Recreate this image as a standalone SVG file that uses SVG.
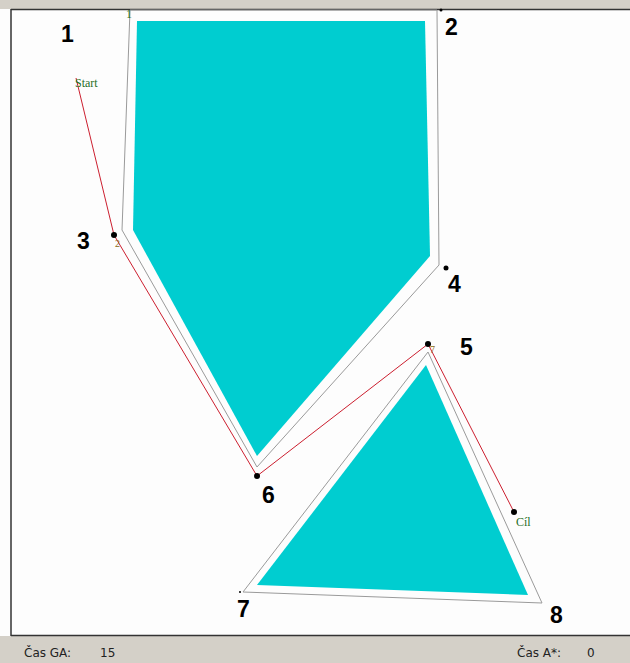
<svg xmlns="http://www.w3.org/2000/svg" width="630" height="663" viewBox="0 0 630 663">
<style>
.num{font-family:"Liberation Sans",Arial,sans-serif;font-weight:bold;font-size:23px;fill:#000}
.lbl{font-family:"Liberation Serif","Times New Roman",serif;font-size:12px;fill:#1f6f1f}
.idx{font-family:"Liberation Serif",serif;font-size:10px;fill:#8a6a10}
.out{fill:none;stroke:#9a9a9a;stroke-width:1}
.obs{fill:#00cdd0;stroke:none}
.path{fill:none;stroke:#cc1f2f;stroke-width:1}
.dot{fill:#000}
.stat{font-family:Tahoma,"DejaVu Sans","Liberation Sans",sans-serif;font-size:12px;fill:#222}
</style>
<rect x="0" y="0" width="630" height="663" fill="#fdfdfd"/>
<rect x="0" y="0" width="630" height="9" fill="#d4d0c8"/>
<rect x="0" y="636" width="630" height="27" fill="#d4d0c8"/>
<line x1="11" y1="9.5" x2="630" y2="9.5" stroke="#333" stroke-width="1.5"/>
<line x1="11" y1="9" x2="11" y2="636" stroke="#333" stroke-width="1.5"/>
<line x1="11" y1="635.5" x2="630" y2="635.5" stroke="#333" stroke-width="1.5"/>

<g id="obstacle1">
<polygon class="out" points="130,10 437,10 439,265 257,467 122,230"/>
<polygon class="obs" points="137,21 425,21 430,256 257,456 133,230"/>
</g>
<g id="obstacle2">
<polygon class="out" points="428,352 542,603 243,592"/>
<polygon class="obs" points="426,365 528,595 257,585"/>
</g>

<g id="connectors">
<polyline class="path" points="76,78 114,235 257,476 428,344 514,512"/>
</g>

<g id="p1"><text class="num" x="61" y="42">1</text><text class="lbl" x="126" y="18">1</text></g>
<g id="p2"><circle class="dot" cx="441" cy="10" r="1.5"/><text class="num" x="445" y="35">2</text></g>
<g id="p3"><circle class="dot" cx="114" cy="235" r="3"/><text class="num" x="77" y="249">3</text><text class="idx" x="115" y="247">2</text></g>
<g id="p4"><circle class="dot" cx="446" cy="268" r="2.5"/><text class="num" x="448" y="292">4</text></g>
<g id="p5"><circle class="dot" cx="428" cy="344" r="3"/><text class="num" x="460" y="355">5</text><text class="idx" x="430" y="353">7</text></g>
<g id="p6"><circle class="dot" cx="257" cy="476" r="3"/><text class="num" x="262" y="503">6</text></g>
<g id="p7"><circle class="dot" cx="240" cy="592" r="1"/><text class="num" x="237" y="617">7</text></g>
<g id="p8"><text class="num" x="550" y="623">8</text></g>
<g id="start"><text class="lbl" x="75" y="87">Start</text></g>
<g id="goal"><circle class="dot" cx="514" cy="512" r="3"/><text class="lbl" x="516" y="526">Cíl</text></g>

<g id="status">
<text class="stat" x="24" y="657">Čas GA:</text>
<text class="stat" x="100" y="657">15</text>
<text class="stat" x="517" y="657">Čas A*:</text>
<text class="stat" x="587" y="657">0</text>
</g>
</svg>
